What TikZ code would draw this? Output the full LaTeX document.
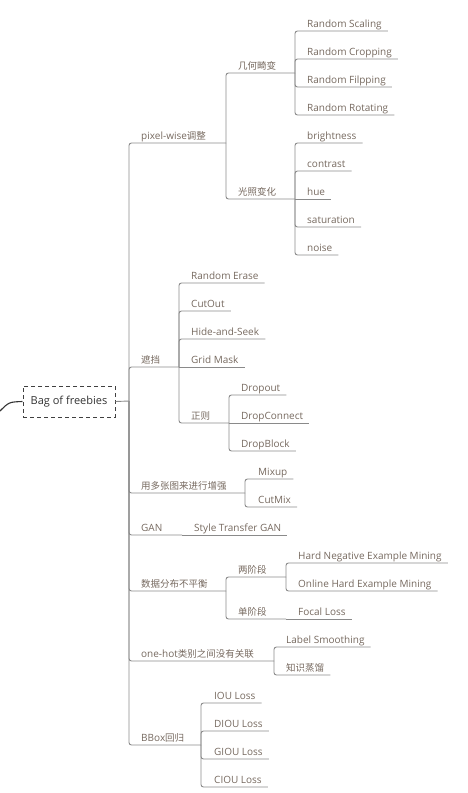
\documentclass[tikz,border=0pt]{standalone}
\usepackage{fontspec}
\setmainfont{Open Sans}
\newfontfamily\cjk[Scale=0.95]{Noto Sans CJK SC}
\usepackage{tikz}
\usetikzlibrary{calc}
\definecolor{txtgray}{HTML}{76695F}
\definecolor{linegray}{HTML}{8A8A8A}
\tikzset{
  topic/.style={anchor=base west, inner sep=0pt, text=txtgray, font=\fontsize{10}{12}\selectfont},
  branch/.style={draw=linegray, line width=0.9pt, rounded corners=2.5pt},
  rootbox/.style={draw=black!75, dash pattern=on 4pt off 3pt, line width=1pt, minimum width=92pt, minimum height=31pt, inner sep=0pt, text=black!80, font=\fontsize{11}{13}\selectfont}
}

\begin{document}
\begin{tikzpicture}[x=1pt,y=-1pt]
    \useasboundingbox (0,0) rectangle (468,793);
    % Root
    \node[rootbox] (root) at (69,401.5) {Bag of freebies};
    \coordinate (tail) at (0,411);
    \draw[black!80, line width=1.1pt] (tail) .. controls (9,402) .. (root.west);
    \coordinate (froot) at (129,401);
    \draw[branch] (root.east) -- (froot);
    % First level (line y, fork x)
    \foreach \y/\fx/\name/\lbl in {143/226/pix/pixel-wise{\cjk 调整}, 367/179/occ/{\cjk 遮挡},
        493/245/mix/{\cjk 用多张图来进行增强}, 535/182/gan/GAN, 591/226/imb/{\cjk 数据分布不平衡},
        661/274/hot/one-hot{\cjk 类别之间没有关联}, 745/201/bbox/BBox{\cjk 回归}} {
      \node[topic] (\name) at (141,\y-4) {\lbl};
      \coordinate (f\name) at (\fx,\y);
      \draw[branch] (froot) |- (f\name);
    }
    % Second level parents
    \foreach \up/\tx/\y/\fx/\name/\lbl in {pix/238/73/295/geo/{\cjk 几何畸变}, pix/238/199/295/light/{\cjk 光照变化},
        occ/191/423/229/reg/{\cjk 正则}, imb/238/577/286/two/{\cjk 两阶段}, imb/238/619/286/one/{\cjk 单阶段}} {
      \node[topic] (\name) at (\tx,\y-4) {\lbl};
      \coordinate (f\name) at (\fx,\y);
      \draw[branch] (f\up) |- (f\name);
    }
    % Leaves (no corner when the leaf sits on the fork line)
    \foreach \up/\tx/\y/\name/\lbl in {geo/307/31/rs/Random Scaling, geo/307/59/rc/Random Cropping,
        geo/307/87/rf/Random Filpping, geo/307/115/rr/Random Rotating,
        light/307/143/br/brightness, light/307/171/ct/contrast, light/307/199/hue/hue,
        light/307/227/sat/saturation, light/307/255/noi/noise,
        occ/191/283/re/Random Erase, occ/191/311/co/CutOut, occ/191/339/hs/Hide-and-Seek, occ/191/367/gm/Grid Mask,
        reg/241/395/dp/Dropout, reg/241/423/dc/DropConnect, reg/241/451/db/DropBlock,
        mix/258/479/mu/Mixup, mix/258/507/cm/CutMix,
        gan/194/535/stg/Style Transfer GAN,
        two/298/563/hnem/Hard Negative Example Mining, two/298/591/ohem/Online Hard Example Mining,
        one/298/619/fl/Focal Loss,
        hot/286/647/ls/Label Smoothing, hot/286/675/kd/{\cjk 知识蒸馏},
        bbox/214/703/iou/IOU Loss, bbox/214/731/diou/DIOU Loss, bbox/214/759/giou/GIOU Loss, bbox/214/787/ciou/CIOU Loss} {
      \node[topic] (\name) at (\tx,\y-4) {\lbl};
      \path (f\up); \pgfgetlastxy{\ux}{\uy}
      \pgfmathsetmacro\rad{abs(\uy+\y)<0.5 ? 0 : 2.5}
      \draw[branch, rounded corners=\rad pt] (f\up) |- ($(\name.base east)+(6,4)$);
    }
\end{tikzpicture}
\end{document}
